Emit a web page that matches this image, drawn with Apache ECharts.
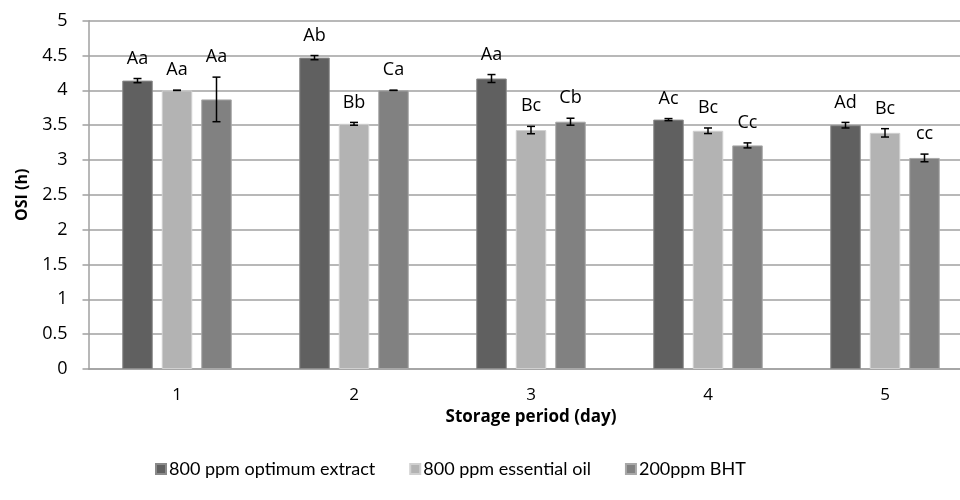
<!DOCTYPE html>
<html>
<head>
<meta charset="utf-8">
<script src="https://cdn.jsdelivr.net/npm/echarts@6/dist/echarts.min.js"></script>
<style>html,body{margin:0;padding:0;background:#fff}#c{width:960px;height:500px}</style>
</head>
<body>
<div id="c"></div>
<script>
const categories = ['1', '2', '3', '4', '5'];
const seriesNames = ['800 ppm optimum extract', '800 ppm essential oil', '200ppm BHT'];
const extractValues = [4.14, 4.47, 4.17, 3.58, 3.50];
const extractErrors = [0.03, 0.03, 0.057, 0.015, 0.04];
const extractLabels = ['Aa', 'Ab', 'Aa', 'Ac', 'Ad'];
const oilValues = [4.00, 3.52, 3.43, 3.42, 3.39];
const oilErrors = [0.0, 0.02, 0.053, 0.04, 0.06];
const oilLabels = ['Aa', 'Bb', 'Bc', 'Bc', 'Bc'];
const bhtValues = [3.87, 4.00, 3.55, 3.21, 3.03];
const bhtErrors = [0.32, 0.0, 0.05, 0.036, 0.055];
const bhtLabels = ['Aa', 'Ca', 'Cb', 'Cc', 'cc'];
const yTicks = { min: 0, max: 5, interval: 0.5 };

const FONT = '"Open Sans", sans-serif';
const LFONT = 'Lato, "Open Sans", sans-serif';
const colors = ['#606060', '#b3b3b3', '#818181'];
const borders = ['#8a8a8a', '#d0d0d0', '#a8a8a8'];
const BAR_W = 30.5, BAR_STEP = 39.5;
const groups = [
  { name: seriesNames[0], v: extractValues, e: extractErrors, l: extractLabels },
  { name: seriesNames[1], v: oilValues, e: oilErrors, l: oilLabels },
  { name: seriesNames[2], v: bhtValues, e: bhtErrors, l: bhtLabels }
];

const series = [];
groups.forEach((g, si) => {
  series.push({
    name: g.name, type: 'bar', data: g.v,
    barWidth: BAR_W, barGap: ((BAR_STEP - BAR_W) / BAR_W * 100) + '%',
    itemStyle: { color: colors[si], borderColor: borders[si], borderWidth: 1 },
    silent: true
  });
});
groups.forEach((g, si) => {
  const offset = (si - 1) * BAR_STEP;
  series.push({
    name: g.name + ' err', type: 'custom', z: 10, silent: true,
    data: g.v.map((v, i) => [i, v, g.e[i]]),
    encode: { x: 0, y: 1 },
    renderItem: function (params, api) {
      const i = api.value(0), v = api.value(1), e = api.value(2);
      const x = api.coord([i, v])[0] + offset;
      const yt = api.coord([i, v + e])[1];
      const yb = api.coord([i, v - e])[1];
      const cw = 4;
      const st = { stroke: '#000', lineWidth: 1.5, fill: null };
      const children = [
        { type: 'line', shape: { x1: x, y1: yt, x2: x, y2: yb }, style: st },
        { type: 'line', shape: { x1: x - cw, y1: yt, x2: x + cw, y2: yt }, style: st },
        { type: 'line', shape: { x1: x - cw, y1: yb, x2: x + cw, y2: yb }, style: st },
        { type: 'text', x: x, y: yt - 20, style: { text: g.l[params.dataIndex], fill: '#000', font: '18px ' + FONT, align: 'center', verticalAlign: 'middle' } }
      ];
      return { type: 'group', children: children };
    }
  });
});

const chart = echarts.init(document.getElementById('c'), null, { renderer: 'canvas' });
chart.setOption({
  animation: false,
  backgroundColor: '#fff',
  textStyle: { fontFamily: FONT },
  grid: { left: 88.5, top: 20.7, width: 885, height: 348.3, outerBoundsMode: 'none' },
  legend: {
    data: seriesNames, left: 150, top: 455, icon: 'rect', itemWidth: 10, itemHeight: 10, itemGap: 34,
    textStyle: { fontFamily: LFONT, fontSize: 18, color: '#000', padding: [0, 0, 0, -2] }
  },
  xAxis: {
    type: 'category', data: categories,
    name: 'Storage period (day)', nameLocation: 'middle', nameGap: 37,
    nameTextStyle: { fontFamily: FONT, fontSize: 17, fontWeight: 'bold', color: '#000' },
    axisLine: { lineStyle: { color: '#a0a0a0', width: 1.5 } },
    axisTick: { show: false },
    axisLabel: { fontFamily: FONT, fontSize: 17, color: '#000', margin: 18 }
  },
  yAxis: {
    type: 'value', min: yTicks.min, max: yTicks.max, interval: yTicks.interval,
    name: 'OSI (h)', nameLocation: 'middle', nameRotate: 90, nameGap: 58,
    nameTextStyle: { fontFamily: FONT, fontSize: 16, fontWeight: 'bold', color: '#000' },
    axisLine: { show: true, lineStyle: { color: '#a0a0a0', width: 1.5 } },
    axisTick: { show: true, length: 6, lineStyle: { color: '#a0a0a0', width: 1.5 } },
    splitLine: { lineStyle: { color: '#a0a0a0', width: 1.5 } },
    axisLabel: { fontFamily: FONT, fontSize: 18, color: '#000', margin: 21 }
  },
  series: series
});
</script>
</body>
</html>
